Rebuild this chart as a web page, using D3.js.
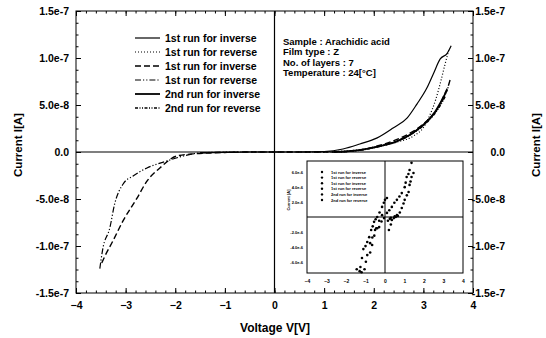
<!DOCTYPE html>
<html>
<head>
<meta charset="utf-8">
<script src="https://cdn.jsdelivr.net/npm/d3@7"></script>
<style>
  body { margin: 0; background: #fff; }
  svg text { font-family: "Liberation Sans", Arial, sans-serif; font-weight: bold; fill: #000; }
</style>
</head>
<body>
<div id="chart"></div>
<script>
// ---- data (voltage in V, current in A) ----
const yTickValues = [-1.5e-7, -1.0e-7, -5.0e-8, 0, 5.0e-8, 1.0e-7, 1.5e-7];
const yTickLabels = ["-1.5e-7", "-1.0e-7", "-5.0e-8", "0.0", "5.0e-8", "1.0e-7", "1.5e-7"];
const xTickValues = [-4, -3, -2, -1, 0, 1, 2, 3, 4];

const legendNames = ["1st run for inverse", "1st run for reverse", "1st run for inverse",
                     "1st run for reverse", "2nd run for inverse", "2nd run for reverse"];

// 1st run for inverse (solid)
const run1InvV = [-1.5, -1.0, -0.5, 0, 0.5, 1.0, 1.38, 1.72, 2.07, 2.39, 2.67, 2.87, 3.07, 3.20, 3.34, 3.48, 3.56];
const run1InvI = [-0.1e-8, -0.05e-8, 0, 0, 0, 0.05e-8, 0.32e-8, 0.85e-8, 1.5e-8, 2.55e-8, 3.6e-8, 5.1e-8, 6.8e-8, 8.3e-8, 9.9e-8, 10.5e-8, 11.3e-8];
// 1st run for reverse (dotted)
const run1RevV = [0.8, 1.4, 1.8, 2.2, 2.5, 2.8, 3.0, 3.12, 3.25, 3.35, 3.43, 3.52];
const run1RevI = [0, 0.1e-8, 0.3e-8, 0.7e-8, 1.1e-8, 1.7e-8, 2.6e-8, 3.8e-8, 5.6e-8, 7.5e-8, 9.2e-8, 11.0e-8];
// 1st run for inverse (dashed)
const run1bInvV = [-3.48, -3.42, -3.26, -3.05, -2.77, -2.57, -2.31, -1.97, -1.64, -1.30, -1.0, -0.5, 0, 0.6, 1.2, 1.72, 2.07, 2.39, 2.73, 3.0, 3.2, 3.33, 3.42, 3.5, 3.55];
const run1bInvI = [-11.8e-8, -11.1e-8, -9.5e-8, -7.3e-8, -4.9e-8, -3.1e-8, -1.7e-8, -0.43e-8, -0.2e-8, -0.1e-8, -0.05e-8, 0, 0, 0, 0, 0.2e-8, 0.64e-8, 1.17e-8, 2.0e-8, 2.98e-8, 4.04e-8, 5.0e-8, 6.1e-8, 7.0e-8, 7.9e-8];
// 1st run for reverse (dash-dot-dot)
const run1bRevV = [-3.52, -3.46, -3.32, -3.22, -3.05, -2.85, -2.57, -2.17, -1.84, -1.5, -0.9, 0, 0.7, 1.3, 1.8, 2.2, 2.5, 2.8, 3.05, 3.25, 3.4, 3.5];
const run1bRevI = [-12.4e-8, -10.3e-8, -8.1e-8, -5.5e-8, -3.4e-8, -2.55e-8, -1.7e-8, -0.96e-8, -0.43e-8, -0.1e-8, 0, 0, 0, 0, 0.25e-8, 0.75e-8, 1.25e-8, 2.1e-8, 3.1e-8, 4.3e-8, 5.6e-8, 6.9e-8];
// 2nd run for inverse
const run2InvV = [1.2, 1.7, 2.1, 2.45, 2.75, 3.0, 3.2, 3.35, 3.48];
const run2InvI = [0, 0.2e-8, 0.6e-8, 1.1e-8, 1.9e-8, 2.9e-8, 4.0e-8, 5.3e-8, 6.6e-8];
// 2nd run for reverse
const run2RevV = [1.3, 1.8, 2.2, 2.55, 2.85, 3.1, 3.3, 3.45];
const run2RevI = [0, 0.25e-8, 0.7e-8, 1.3e-8, 2.2e-8, 3.3e-8, 4.6e-8, 6.0e-8];

// inset (small graph) values
const insetXTicks = [-4, -3, -2, -1, 0, 1, 2, 3, 4];
const insetYTicks = [-1.2, -0.8, -0.4, 0.4, 0.8, 1.2];
const insetYLabels = ["-6.0e-6", "-4.0e-6", "-2.0e-6", "2.0e-6", "4.0e-6", "6.0e-6"];
const insetAV = [-1.30, -1.26, -1.18, -1.11, -1.00, -0.91, -0.81, -0.71, -0.63, -0.56, -0.48, -0.40, -0.28, -0.15, -0.06, 0, 0.1];
const insetAI = [-1.45, -1.34, -1.10, -0.86, -0.78, -0.67, -0.54, -0.35, -0.25, -0.13, -0.06, 0, 0.12, 0.27, 0.38, 0.46, 0.51];
const insetBV = [-1.05, -0.98, -0.91, -0.76, -0.65, -0.51, -0.40, -0.30, -0.18, -0.05, 0.10, 0.22, 0.35, 0.48, 0.61, 0.74, 0.86, 1.01, 1.06, 1.11, 1.20, 1.26, 1.36];
const insetBI = [-1.40, -1.20, -1.02, -0.70, -0.55, -0.35, -0.30, -0.27, -0.12, -0.03, 0.11, 0.18, 0.27, 0.38, 0.46, 0.55, 0.64, 0.80, 0.92, 1.07, 1.15, 1.26, 1.45];
const insetCV = [0.2, 0.25, 0.30, 0.35, 0.45, 0.55, 0.61, 0.66, 0.76, 0.86, 0.95, 1.01, 1.12, 1.21, 1.26, 1.31, 1.36, 1.46];
const insetCI = [-0.35, -0.05, -0.20, -0.08, -0.03, 0.00, 0.05, 0.03, 0.12, 0.24, 0.36, 0.46, 0.58, 0.67, 0.86, 0.95, 1.07, 1.18];
const insetDV = [-1.45, -1.20, -0.76, -0.66, -0.55, -0.45, -0.30, -0.15, 0.15, 0.30, 0.50];
const insetDI = [-1.40, -1.48, -0.95, -0.75, -0.50, -0.30, -0.10, 0.05, -0.10, -0.02, 0.02];

// ---- layout ----
const W = 546, H = 338;
const svg = d3.select("#chart").append("svg").attr("width", W).attr("height", H);

const x = d3.scaleLinear().domain([-4, 4]).range([76, 473]);
const y = d3.scaleLinear().domain([-1.5e-7, 1.5e-7]).range([293, 11]);

const yMinor = d3.range(-1.5e-7, 1.5e-7 + 1e-12, 1.25e-8);
const xMinor = d3.range(-4, 4.001, 0.2);

function axisGroup(axis, tx, ty) {
  const g = svg.append("g").attr("transform", `translate(${tx},${ty})`).call(axis);
  g.select(".domain").remove();
  g.selectAll("line").attr("stroke", "#000").attr("stroke-width", 1);
  return g;
}

// minor ticks (inward)
axisGroup(d3.axisLeft(y).tickValues(yMinor).tickSize(-2.5).tickFormat(""), 76, 0);
axisGroup(d3.axisRight(y).tickValues(yMinor).tickSize(-2.5).tickFormat(""), 473, 0);
axisGroup(d3.axisBottom(x).tickValues(xMinor).tickSize(-2.5).tickFormat(""), 0, 293);
axisGroup(d3.axisTop(x).tickValues(xMinor).tickSize(-2.5).tickFormat(""), 0, 11);

// major ticks
const left = axisGroup(d3.axisLeft(y).tickValues(yTickValues).tickSize(-5).tickPadding(7)
  .tickFormat((d, i) => yTickLabels[i]), 76, 0);
left.selectAll("text").attr("font-size", 10.5);
const right = axisGroup(d3.axisRight(y).tickValues(yTickValues).tickSize(-5)
  .tickFormat((d, i) => yTickLabels[i]), 473, 0);
right.selectAll("text").attr("font-size", 10.5).attr("text-anchor", "end").attr("x", 32);
const bottom = axisGroup(d3.axisBottom(x).tickValues(xTickValues).tickSize(-5).tickPadding(9)
  .tickFormat(d3.format("d")), 0, 293);
bottom.selectAll("text").attr("font-size", 10.5);
axisGroup(d3.axisTop(x).tickValues(xTickValues).tickSize(-5).tickFormat(""), 0, 11);

// frame + zero lines
svg.append("rect").attr("x", 76).attr("y", 11).attr("width", 397).attr("height", 282)
  .attr("fill", "none").attr("stroke", "#000").attr("stroke-width", 1);
svg.append("line").attr("x1", 76).attr("x2", 473).attr("y1", y(0)).attr("y2", y(0))
  .attr("stroke", "#000").attr("stroke-width", 1.2);
svg.append("line").attr("x1", x(0)).attr("x2", x(0)).attr("y1", 11).attr("y2", 293)
  .attr("stroke", "#000").attr("stroke-width", 1.2);

// axis titles
svg.append("text").attr("x", 275).attr("y", 332).attr("text-anchor", "middle")
  .attr("font-size", 12).text("Voltage V[V]");
svg.append("text").attr("transform", "translate(22,145) rotate(-90)").attr("text-anchor", "middle")
  .attr("font-size", 11.5).text("Current I[A]");
svg.append("text").attr("transform", "translate(540,145) rotate(-90)").attr("text-anchor", "middle")
  .attr("font-size", 11.5).text("Current I[A]");

// curves
const styles = [
  { w: 1.2, dash: null },
  { w: 1.2, dash: "1,2" },
  { w: 1.4, dash: "6,3" },
  { w: 1.2, dash: "6,2,1.2,2,1.2,2" },
  { w: 1.8, dash: null },
  { w: 1.4, dash: "3,1.5,1,1.5,1,1.5" }
];
const series = [
  [run1InvV, run1InvI], [run1RevV, run1RevI], [run1bInvV, run1bInvI],
  [run1bRevV, run1bRevI], [run2InvV, run2InvI], [run2RevV, run2RevI]
];
const line = d3.line().x(d => x(d[0])).y(d => y(d[1])).curve(d3.curveMonotoneX);
series.forEach((s, k) => {
  const pts = s[0].map((v, i) => [v, s[1][i]]);
  svg.append("path").attr("d", line(pts)).attr("fill", "none").attr("stroke", "#000")
    .attr("stroke-width", styles[k].w).attr("stroke-dasharray", styles[k].dash);
});

// legend
legendNames.forEach((name, i) => {
  const ly = 38 + i * 14;
  svg.append("line").attr("x1", 135).attr("x2", 160).attr("y1", ly).attr("y2", ly)
    .attr("stroke", "#000").attr("stroke-width", styles[i].w).attr("stroke-dasharray", styles[i].dash);
  svg.append("text").attr("x", 165).attr("y", ly + 3.5).attr("font-size", 10.5).text(name);
});

// annotation
const notes = ["Sample : Arachidic acid", "Film type : Z", "No. of layers : 7", "Temperature : 24[\u00B0C]"];
notes.forEach((t, i) => {
  svg.append("text").attr("x", 283).attr("y", 45 + i * 10.4).attr("font-size", 9.5).text(t);
});

// ---- inset ----
const ix = d3.scaleLinear().domain([-4, 4]).range([307, 463]);
const iy = d3.scaleLinear().domain([-1.5, 1.5]).range([273, 161]);
const inset = svg.append("g");
inset.append("rect").attr("x", 307).attr("y", 161).attr("width", 156).attr("height", 112)
  .attr("fill", "#fff").attr("stroke", "#000").attr("stroke-width", 1);
inset.append("line").attr("x1", ix(0)).attr("x2", ix(0)).attr("y1", 161).attr("y2", 273)
  .attr("stroke", "#000").attr("stroke-width", 1);
inset.append("line").attr("x1", 307).attr("x2", 463).attr("y1", iy(0)).attr("y2", iy(0))
  .attr("stroke", "#000").attr("stroke-width", 1);
const ixAx = inset.append("g").attr("transform", "translate(0,273)")
  .call(d3.axisBottom(ix).tickValues(insetXTicks).tickSize(0).tickPadding(6).tickFormat(d3.format("d")));
ixAx.select(".domain").remove();
ixAx.selectAll("text").attr("font-size", 5);
const iyAx = inset.append("g").attr("transform", "translate(307,0)")
  .call(d3.axisLeft(iy).tickValues(insetYTicks).tickSize(0).tickPadding(4).tickFormat((d, i) => insetYLabels[i]));
iyAx.select(".domain").remove();
iyAx.selectAll("text").attr("font-size", 4);
inset.append("text").attr("transform", "translate(290,200) rotate(-90)").attr("text-anchor", "middle")
  .attr("font-size", 4).text("Current [A]");

[[insetAV, insetAI], [insetBV, insetBI], [insetCV, insetCI], [insetDV, insetDI]].forEach(s => {
  inset.selectAll(null).data(s[0].map((v, i) => [v, s[1][i]])).enter().append("circle")
    .attr("cx", d => ix(d[0])).attr("cy", d => iy(d[1])).attr("r", 1.3).attr("fill", "#000");
});

legendNames.forEach((name, i) => {
  const ly = 172 + i * 5.6;
  inset.append("circle").attr("cx", 322).attr("cy", ly).attr("r", 1.2).attr("fill", "#000");
  inset.append("text").attr("x", 331).attr("y", ly + 1.5).attr("font-size", 4).text(name);
});
</script>
</body>
</html>
